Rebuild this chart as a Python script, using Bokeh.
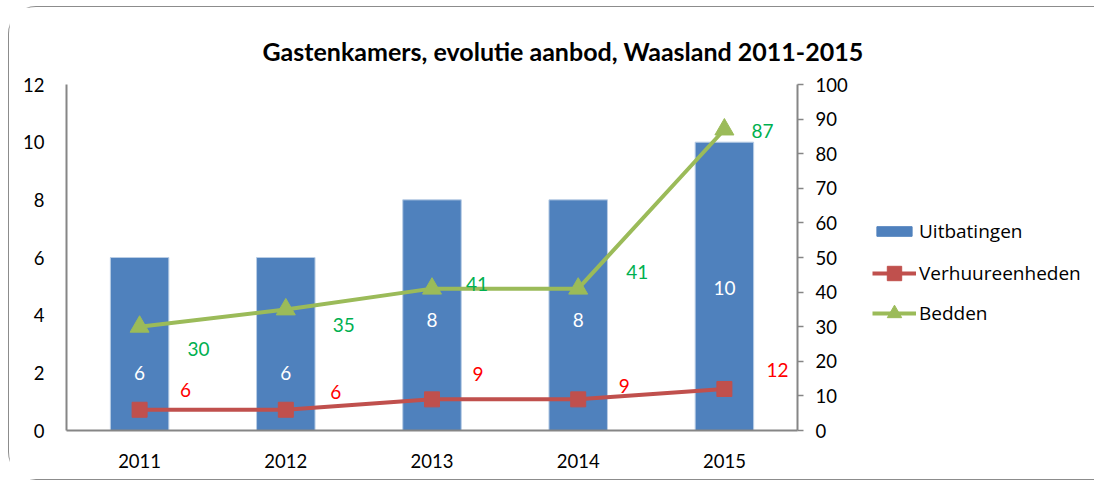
from bokeh.plotting import figure
from bokeh.models import (ColumnDataSource, Range1d, LinearAxis, Legend, LegendItem,
                          FixedTicker, Title, FactorRange)
from bokeh.layouts import row
from bokeh.core.properties import value
from bokeh.embed import file_html
from bokeh.resources import INLINE

years = ["2011", "2012", "2013", "2014", "2015"]
uitbatingen = [6, 6, 8, 8, 10]
verhuureenheden = [6, 6, 9, 9, 12]
bedden = [30, 35, 41, 41, 87]

left_ticks = [0, 2, 4, 6, 8, 10, 12]
right_ticks = [0, 10, 20, 30, 40, 50, 60, 70, 80, 90, 100]

FONT = "Lato"
BLUE = "#4F81BD"
RED = "#C0504D"
GREEN = "#9BBB59"
AXIS = "#868686"

p = figure(x_range=years, y_range=Range1d(0, 12), width=860, height=472,
           output_backend="svg", toolbar_location=None,
           min_border_left=57, min_border_right=72, min_border_top=77, min_border_bottom=49)
p.outline_line_color = None
p.grid.visible = False
p.background_fill_color = "white"

p.title = Title(text="Gastenkamers, evolutie aanbod, Waasland 2011-2015", align="left",
                text_font=FONT, text_font_size="25px", text_font_style="bold",
                text_color="#000000", offset=196, standoff=34, vertical_align="top")

p.extra_y_ranges = {"right": Range1d(0, 100)}

src = ColumnDataSource(dict(x=years, u=uitbatingen, v=verhuureenheden, b=bedden))

p.vbar(x="x", top="u", width=0.4, source=src, fill_color=BLUE,
       line_color="#b9cde5", line_width=1)
p.line(x="x", y="v", source=src, y_range_name="right", line_color=RED, line_width=4)
p.scatter(x="x", y="v", source=src, y_range_name="right", marker="square", size=15,
          fill_color=RED, line_color=RED)
p.line(x="x", y="b", source=src, y_range_name="right", line_color=GREEN, line_width=4)
p.scatter(x="x", y="b", source=src, y_range_name="right", marker="triangle", size=19,
          fill_color=GREEN, line_color=GREEN)

# data labels
src_u = ColumnDataSource(dict(x=years, y=uitbatingen, t=[str(a) for a in uitbatingen],
                              dy=[115, 115, 120, 120, 146]))
p.text(x="x", y="y", text="t", source=src_u, y_offset="dy", text_color="white",
       text_align="center", text_baseline="middle", text_font=value(FONT),
       text_font_size="19px")

src_b = ColumnDataSource(dict(x=years, y=bedden, t=[str(a) for a in bedden],
                              dx=[59, 58, 45, 59, 38], dy=[22, 16, -5, -17, 2]))
p.text(x="x", y="y", text="t", source=src_b, y_range_name="right", x_offset="dx",
       y_offset="dy", text_color="#00B050", text_align="center", text_baseline="middle",
       text_font=value(FONT), text_font_size="19px")

src_v = ColumnDataSource(dict(x=years, y=verhuureenheden, t=[str(a) for a in verhuureenheden],
                              dx=[46, 50, 46, 46, 53], dy=[-20, -18, -25, -13, -19]))
p.text(x="x", y="y", text="t", source=src_v, y_range_name="right", x_offset="dx",
       y_offset="dy", text_color="#FF0000", text_align="center", text_baseline="middle",
       text_font=value(FONT), text_font_size="19px")

# axes
yl = p.yaxis[0]
yl.ticker = FixedTicker(ticks=left_ticks)
yl.axis_line_color = AXIS
yl.axis_line_width = 2
yl.major_tick_line_color = None
yl.minor_tick_line_color = None
yl.major_label_standoff = 16
yl.major_label_text_font = FONT
yl.major_label_text_font_size = "18.5px"
yl.major_label_text_color = "#000000"

yr = LinearAxis(y_range_name="right", ticker=FixedTicker(ticks=right_ticks))
yr.axis_line_color = AXIS
yr.axis_line_width = 2
yr.major_tick_line_color = AXIS
yr.major_tick_line_width = 1.5
yr.major_tick_out = 6
yr.major_tick_in = 0
yr.minor_tick_line_color = None
yr.major_label_standoff = 12
yr.major_label_text_font = FONT
yr.major_label_text_font_size = "18.5px"
yr.major_label_text_color = "#000000"
p.add_layout(yr, "right")

xa = p.xaxis[0]
xa.axis_line_color = AXIS
xa.axis_line_width = 2
xa.major_tick_line_color = None
xa.minor_tick_line_color = None
xa.major_label_standoff = 17
xa.major_label_text_font = FONT
xa.major_label_text_font_size = "18.5px"
xa.major_label_text_color = "#000000"

# legend panel: its own small figure; key renderers are hidden, only legend keys show
q = figure(width=225, height=472, output_backend="svg", toolbar_location=None,
           x_range=FactorRange(*years), y_range=Range1d(-1000, -999),
           min_border_left=0, min_border_right=0, min_border_top=0, min_border_bottom=0)
q.axis.visible = False
q.grid.visible = False
q.outline_line_color = None
kb = q.vbar(x="x", top="u", width=0.4, source=src, fill_color=BLUE, line_color=BLUE,
            visible=False)
kvl = q.line(x="x", y="v", source=src, line_color=RED, line_width=4, visible=False)
kvm = q.scatter(x="x", y="v", source=src, marker="square", size=15,
                fill_color=RED, line_color=RED, visible=False)
kbl = q.line(x="x", y="b", source=src, line_color=GREEN, line_width=4, visible=False)
kbm = q.scatter(x="x", y="b", source=src, marker="triangle", size=17,
                fill_color=GREEN, line_color=GREEN, visible=False)

common = dict(orientation="vertical", label_text_font="Open Sans",
              label_text_font_size="19px", label_text_color="#000000",
              border_line_color=None, background_fill_alpha=0, label_standoff=3,
              padding=0, margin=0, inactive_fill_alpha=0, glyph_width=44)

leg_bar = Legend(items=[LegendItem(label="Uitbatingen", renderers=[kb])],
                 location=(3, 186), glyph_height=12, label_height=22, **common)
leg_lines = Legend(items=[LegendItem(label="Verhuureenheden", renderers=[kvl, kvm]),
                          LegendItem(label="Bedden", renderers=[kbl, kbm])],
                   location=(3, 99), glyph_height=36, label_height=22, spacing=4,
                   **common)
q.add_layout(leg_bar, "center")
q.add_layout(leg_lines, "center")

layout = row(p, q)
layout.styles = {"border-left": "1.5px solid #8c8c8c", "border-top": "1.5px solid #8c8c8c",
                 "border-bottom": "1.5px solid #8c8c8c",
                 "border-top-left-radius": "28px", "border-bottom-left-radius": "28px",
                 "margin-left": "8px", "margin-top": "6px"}

open("out.html", "w").write(file_html(layout, INLINE))
